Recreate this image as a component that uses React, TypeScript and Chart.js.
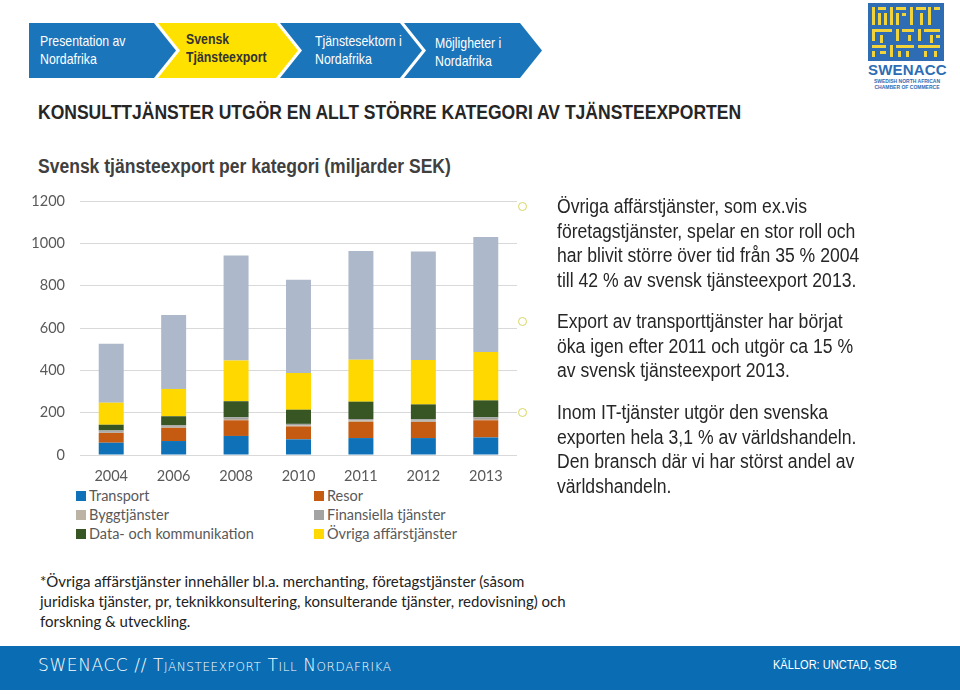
import React, { useEffect, useRef } from "react";
import { Chart, registerables } from "chart.js";

Chart.register(...registerables);

const years = ["2004", "2006", "2008", "2010", "2011", "2012", "2013"];
const transport = [58, 66, 90, 74, 80, 80, 83];
const resor = [46, 62, 74, 61, 77, 76, 81];
const bygg = [5, 5, 6, 5, 6, 6, 6];
const finans = [7, 7, 8, 7, 7, 7, 8];
const dataKomm = [27, 43, 76, 67, 82, 70, 80];
const ovrigaAff = [104, 129, 193, 173, 198, 210, 229];
const ovrigt = [279, 349, 495, 441, 514, 513, 543];
const yTicks = [0, 200, 400, 600, 800, 1000, 1200];

const seriesNames = [
  "Transport",
  "Resor",
  "Byggtjänster",
  "Finansiella tjänster",
  "Data- och kommunikation",
  "Övriga affärstjänster",
  "Övrigt",
];
const seriesColors = ["#0F72B8", "#C55A11", "#BDB3A4", "#A3A3A3", "#375623", "#FFD800", "#ADB9CA"];
const legendOrder = [0, 1, 2, 3, 4, 5];

const NARROW = '"Liberation Sans", Arial, sans-serif';
const CAL = 'Lato, "Open Sans", sans-serif';

function BarChart() {
  const ref = useRef<HTMLCanvasElement | null>(null);
  useEffect(() => {
    if (!ref.current) return;
    const all = [transport, resor, bygg, finans, dataKomm, ovrigaAff, ovrigt];
    const chart = new Chart(ref.current, {
      type: "bar",
      data: {
        labels: years,
        datasets: all.map((d, i) => ({
          label: seriesNames[i],
          data: d,
          backgroundColor: seriesColors[i],
          borderWidth: 0,
          barPercentage: 0.4,
          categoryPercentage: 1,
        })),
      },
      options: {
        animation: false,
        responsive: true,
        maintainAspectRatio: false,
        layout: { padding: { top: 16, right: 3, left: 0, bottom: 0 } },
        plugins: { legend: { display: false }, tooltip: { enabled: false } },
        scales: {
          x: {
            stacked: true,
            grid: { display: false, drawTicks: false },
            border: { display: false },
            ticks: { color: "#595959", font: { family: CAL, size: 14.5 }, padding: 13 },
            afterFit: (s: any) => {
              s.height = 30;
            },
          },
          y: {
            stacked: true,
            min: 0,
            max: 1200,
            afterBuildTicks: (s: any) => {
              s.ticks = yTicks.map((v) => ({ value: v }));
            },
            grid: { color: "#D9D9D9", drawTicks: false, lineWidth: 1 },
            border: { display: false },
            ticks: {
              color: "#595959",
              font: { family: CAL, size: 14.5 },
              padding: 15,
              callback: (v: any) => String(v),
            },
            afterFit: (s: any) => {
              s.width = 80;
              s.paddingTop = 0;
              s.paddingBottom = 0;
            },
          },
        },
      },
    });
    return () => chart.destroy();
  }, []);
  return (
    <div style={{ position: "absolute", left: 0, top: 185, width: 520, height: 300 }}>
      <canvas ref={ref} />
    </div>
  );
}

function Chevrons() {
  const y1 = 23, y2 = 78, ym = 50.5;
  const blue = "#1B75BB";
  const yellow = "#FFE100";
  return (
    <svg width={560} height={90} style={{ position: "absolute", left: 0, top: 0 }}>
      <polygon points={`29,${y1} 154,${y1} 176,${ym} 154,${y2} 29,${y2}`} fill={blue} />
      <polygon points={`158,${y1} 276,${y1} 298,${ym} 276,${y2} 158,${y2} 180,${ym}`} fill={yellow} />
      <polygon points={`280,${y1} 400,${y1} 422,${ym} 400,${y2} 280,${y2} 302,${ym}`} fill={blue} />
      <polygon points={`404,${y1} 520,${y1} 542,${ym} 520,${y2} 404,${y2} 426,${ym}`} fill={blue} />
    </svg>
  );
}

function NavText({ x, y, lines, color, bold }: { x: number; y: number; lines: string[]; color: string; bold?: boolean }) {
  return (
    <div
      style={{
        position: "absolute",
        left: x,
        top: y,
        color,
        fontFamily: NARROW,
        fontSize: 15,
        lineHeight: "18px",
        fontWeight: bold ? 700 : 400,
        whiteSpace: "nowrap",
        transform: "scaleX(0.82)",
        transformOrigin: "left top",
      }}
    >
      {lines.map((l, i) => (
        <div key={i}>{l}</div>
      ))}
    </div>
  );
}

function Logo() {
  const bars: [number, number, number, number][] = [
    [4, 4, 3, 18], [10, 4, 8, 3], [10, 10, 3, 12], [16, 10, 3, 12], [22, 4, 3, 18], [28, 4, 10, 3],
    [28, 10, 3, 12], [34, 10, 4, 3], [42, 4, 3, 18], [48, 4, 10, 3], [52, 10, 3, 12], [60, 4, 3, 18], [66, 4, 6, 3],
    [4, 26, 20, 3], [4, 26, 3, 12], [12, 32, 3, 8], [28, 26, 3, 12], [34, 26, 12, 3], [40, 32, 3, 6],
    [50, 26, 3, 12], [56, 26, 16, 3], [62, 32, 3, 8], [68, 32, 4, 3],
    [4, 42, 14, 3], [22, 42, 3, 12], [28, 42, 18, 3], [30, 48, 3, 6], [38, 48, 3, 6], [50, 42, 22, 3],
    [56, 48, 3, 6], [66, 48, 3, 6], [4, 48, 3, 6], [12, 48, 6, 3],
  ];
  return (
    <div style={{ position: "absolute", left: 868, top: 3, width: 78, height: 88 }}>
      <svg width={78} height={60} style={{ position: "absolute", left: 0, top: 0 }}>
        <rect x={0} y={0} width={76} height={58} fill="#2E6DB4" />
        {bars.map((b, i) => (
          <rect key={i} x={b[0]} y={b[1]} width={b[2]} height={b[3]} fill="#F2D33A" />
        ))}
      </svg>
      <div
        style={{
          position: "absolute",
          left: 0,
          top: 58,
          width: 78,
          textAlign: "center",
          color: "#2E6DB4",
          fontFamily: '"Liberation Sans", Arial, sans-serif',
          fontWeight: 700,
          fontSize: 15,
          lineHeight: "18px",
          letterSpacing: 0.2,
        }}
      >
        SWENACC
      </div>
      <div
        style={{
          position: "absolute",
          left: 0,
          top: 76,
          width: 78,
          textAlign: "center",
          color: "#2E6DB4",
          fontFamily: '"Liberation Sans", Arial, sans-serif',
          fontWeight: 700,
          fontSize: 5,
          lineHeight: "5.5px",
          whiteSpace: "nowrap",
        }}
      >
        <div>SWEDISH NORTH AFRICAN</div>
        <div>CHAMBER OF COMMERCE</div>
      </div>
    </div>
  );
}

function Legend() {
  return (
    <div
      style={{
        position: "absolute",
        left: 76,
        top: 486,
        width: 420,
        display: "grid",
        gridTemplateColumns: "238px 200px",
        rowGap: 0,
        fontFamily: CAL,
        fontSize: 14.5,
        color: "#595959",
        lineHeight: "19px",
      }}
    >
      {legendOrder.map((i) => (
        <div key={i} style={{ display: "flex", alignItems: "center", whiteSpace: "nowrap" }}>
          <span style={{ display: "inline-block", width: 10, height: 10, background: seriesColors[i], marginRight: 3 }} />
          <span>{seriesNames[i]}</span>
        </div>
      ))}
    </div>
  );
}

function Bullet({ top, lines }: { top: number; lines: string[] }) {
  return (
    <div style={{ position: "absolute", left: 515, top }}>
      <div
        style={{
          position: "absolute",
          left: 3,
          top: 8,
          width: 7,
          height: 7,
          borderRadius: "50%",
          border: "1.5px solid #D6D65A",
        }}
      />
      <div
        style={{
          position: "absolute",
          left: 42,
          top: 0,
          fontFamily: NARROW,
          fontSize: 20,
          lineHeight: "24.5px",
          color: "#262626",
          whiteSpace: "nowrap",
          transform: "scaleX(0.88)",
          transformOrigin: "left top",
        }}
      >
        {lines.map((l, i) => (
          <div key={i}>{l}</div>
        ))}
      </div>
    </div>
  );
}

function Heading({ top, text, color }: { top: number; text: string; color: string }) {
  return (
    <div
      style={{
        position: "absolute",
        left: 38,
        top,
        fontFamily: NARROW,
        fontWeight: 700,
        fontSize: 20,
        color,
        whiteSpace: "nowrap",
        transform: "scaleX(0.876)",
        transformOrigin: "left top",
      }}
    >
      {text}
    </div>
  );
}

export default function App() {
  return (
    <div
      style={{
        position: "absolute",
        left: 0,
        top: 0,
        width: 960,
        height: 694,
        overflow: "hidden",
        background: "#fff",
      }}
    >
      <Chevrons />
      <NavText x={40} y={32} lines={["Presentation av", "Nordafrika"]} color="#fff" />
      <NavText x={186} y={30} lines={["Svensk", "Tjänsteexport"]} color="#333" bold />
      <NavText x={315} y={32} lines={["Tjänstesektorn i", "Nordafrika"]} color="#fff" />
      <NavText x={435} y={34} lines={["Möjligheter i", "Nordafrika"]} color="#fff" />
      <Logo />
      <Heading top={101} text="KONSULTTJÄNSTER UTGÖR EN ALLT STÖRRE KATEGORI AV TJÄNSTEEXPORTEN" color="#262626" />
      <Heading top={155} text="Svensk tjänsteexport per kategori (miljarder SEK)" color="#404040" />
      <BarChart />
      <Legend />
      <Bullet
        top={194}
        lines={[
          "Övriga affärstjänster, som ex.vis",
          "företagstjänster, spelar en stor roll och",
          "har blivit större över tid från 35 % 2004",
          "till 42 % av svensk tjänsteexport 2013.",
        ]}
      />
      <Bullet
        top={309}
        lines={[
          "Export av transporttjänster har börjat",
          "öka igen efter 2011 och utgör ca 15 %",
          "av svensk tjänsteexport 2013.",
        ]}
      />
      <Bullet
        top={400}
        lines={[
          "Inom IT-tjänster utgör den svenska",
          "exporten hela 3,1 % av världshandeln.",
          "Den bransch där vi har störst andel av",
          "världshandeln.",
        ]}
      />
      <div
        style={{
          position: "absolute",
          left: 40,
          top: 571,
          fontFamily: CAL,
          fontSize: 15,
          lineHeight: "20px",
          color: "#222",
          whiteSpace: "nowrap",
        }}
      >
        <div>*Övriga affärstjänster innehåller bl.a. merchanting, företagstjänster (såsom</div>
        <div>juridiska tjänster, pr, teknikkonsultering, konsulterande tjänster, redovisning) och</div>
        <div>forskning &amp; utveckling.</div>
      </div>
      <div style={{ position: "absolute", left: 0, top: 646, width: 960, height: 44, background: "#0A6DB3" }} />
      <div
        style={{
          position: "absolute",
          left: 38,
          top: 655,
          fontFamily: '"DejaVu Sans", sans-serif',
          fontWeight: 300,
          fontSize: 17,
          letterSpacing: 0.6,
          fontVariant: "small-caps",
          color: "#fff",
          whiteSpace: "nowrap",
        }}
      >
        SWENACC // Tjänsteexport Till Nordafrika
      </div>
      <div
        style={{
          position: "absolute",
          left: 773,
          top: 657,
          fontFamily: NARROW,
          fontSize: 13,
          color: "#fff",
          whiteSpace: "nowrap",
          transform: "scaleX(0.85)",
          transformOrigin: "left top",
        }}
      >
        KÄLLOR: UNCTAD, SCB
      </div>
    </div>
  );
}
